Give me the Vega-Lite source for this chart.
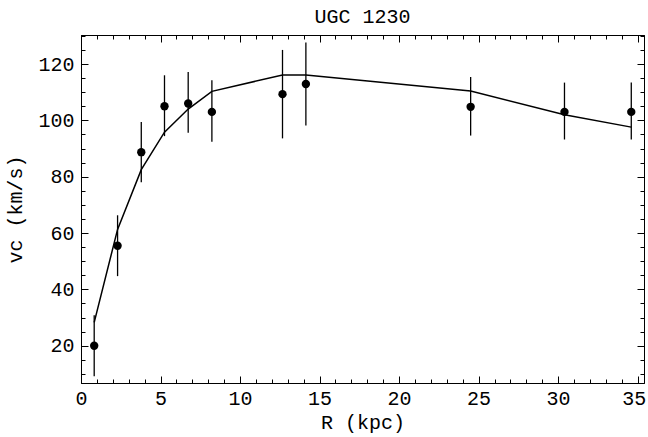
{
  "$schema": "https://vega.github.io/schema/vega-lite/v6.json",
  "autosize": "none",
  "width": 563,
  "height": 348,
  "padding": {"left": 81, "top": 35, "right": 4, "bottom": 54},
  "background": "white",
  "title": {"text": "UGC 1230", "font": "Liberation Mono", "fontSize": 20, "fontWeight": "normal", "color": "black", "baseline": "alphabetic", "offset": -8},
  "config": {
    "view": {"stroke": "black", "strokeWidth": 1},
    "axis": {"domainColor": "black", "domainWidth": 1, "tickColor": "black", "tickWidth": 1, "labelFont": "Liberation Mono", "labelFontSize": 20, "labelColor": "black", "titleFont": "Liberation Mono", "titleFontSize": 20, "titleFontWeight": "normal", "titleColor": "black", "grid": false}
  },
  "datasets": {
    "pts": [
      {"R": 0.83, "v": 20.0, "lo": 9.2, "hi": 30.8},
      {"R": 2.3, "v": 55.5, "lo": 44.7, "hi": 66.3},
      {"R": 3.79, "v": 88.7, "lo": 78.0, "hi": 99.4},
      {"R": 5.25, "v": 105.0, "lo": 94.4, "hi": 116.0},
      {"R": 6.74, "v": 106.0, "lo": 95.6, "hi": 117.2},
      {"R": 8.23, "v": 103.0, "lo": 92.4, "hi": 114.2},
      {"R": 12.67, "v": 109.3, "lo": 93.6, "hi": 125.0},
      {"R": 14.14, "v": 112.9, "lo": 98.2, "hi": 127.6},
      {"R": 24.5, "v": 104.8, "lo": 94.6, "hi": 115.4},
      {"R": 30.4, "v": 103.0, "lo": 93.2, "hi": 113.4},
      {"R": 34.6, "v": 103.0, "lo": 93.2, "hi": 113.4}
    ],
    "fit": [
      {"R": 0.83, "v": 28.3},
      {"R": 2.3, "v": 61.3},
      {"R": 3.79, "v": 82.5},
      {"R": 5.25, "v": 95.8},
      {"R": 6.74, "v": 104.0},
      {"R": 8.23, "v": 110.3},
      {"R": 12.67, "v": 116.1},
      {"R": 14.14, "v": 116.1},
      {"R": 24.5, "v": 110.4},
      {"R": 30.4, "v": 102.0},
      {"R": 34.6, "v": 97.6}
    ]
  },
  "resolve": {"axis": {"x": "independent", "y": "independent"}},
  "layer": [
    {
      "data": {"name": "pts"},
      "mark": {"type": "rule", "color": "black", "strokeWidth": 1.3},
      "encoding": {
        "x": {"field": "R", "type": "quantitative", "scale": {"domain": [0, 35.4], "nice": false, "zero": false},
              "axis": {"orient": "bottom", "values": [0, 5, 10, 15, 20, 25, 30, 35], "tickSize": -7, "labelPadding": 12, "title": "R (kpc)", "titlePadding": 4, "labelFlush": false,
                       "labelOffset": {"condition": {"test": "datum.value >= 34", "value": -4}, "value": 0}}},
        "y": {"field": "lo", "type": "quantitative", "scale": {"domain": [6.76, 130.3], "nice": false, "zero": false},
              "axis": {"orient": "left", "values": [20, 40, 60, 80, 100, 120], "tickSize": -7, "labelPadding": 14, "title": "vc (km/s)", "titlePadding": 12, "labelFlush": false}},
        "y2": {"field": "hi"}
      }
    },
    {
      "data": {"name": "pts"},
      "mark": {"type": "point", "shape": "circle", "filled": true, "color": "black", "opacity": 1, "size": 70},
      "encoding": {
        "x": {"field": "R", "type": "quantitative", "scale": {"domain": [0, 35.4], "nice": false, "zero": false},
              "axis": {"orient": "bottom", "values": [1,2,3,4,6,7,8,9,11,12,13,14,16,17,18,19,21,22,23,24,26,27,28,29,31,32,33,34], "tickSize": -4, "labels": false, "title": null, "domain": false}},
        "y": {"field": "v", "type": "quantitative", "scale": {"domain": [6.76, 130.3], "nice": false, "zero": false},
              "axis": {"orient": "left", "values": [10,15,25,30,35,45,50,55,65,70,75,85,90,95,105,110,115,125,130], "tickSize": -4, "labels": false, "title": null, "domain": false}}
      }
    },
    {
      "data": {"name": "fit"},
      "mark": {"type": "line", "color": "black", "strokeWidth": 1.5},
      "encoding": {
        "x": {"field": "R", "type": "quantitative", "scale": {"domain": [0, 35.4], "nice": false, "zero": false},
              "axis": {"orient": "top", "values": [0, 5, 10, 15, 20, 25, 30, 35], "tickSize": -7, "labels": false, "title": null}},
        "y": {"field": "v", "type": "quantitative", "scale": {"domain": [6.76, 130.3], "nice": false, "zero": false},
              "axis": {"orient": "right", "values": [20, 40, 60, 80, 100, 120], "tickSize": -7, "labels": false, "title": null}}
      }
    },
    {
      "data": {"name": "fit"},
      "mark": {"type": "line", "color": "black", "strokeOpacity": 0},
      "encoding": {
        "x": {"field": "R", "type": "quantitative", "scale": {"domain": [0, 35.4], "nice": false, "zero": false},
              "axis": {"orient": "top", "values": [1,2,3,4,6,7,8,9,11,12,13,14,16,17,18,19,21,22,23,24,26,27,28,29,31,32,33,34], "tickSize": -4, "labels": false, "title": null, "domain": false}},
        "y": {"field": "v", "type": "quantitative", "scale": {"domain": [6.76, 130.3], "nice": false, "zero": false},
              "axis": {"orient": "right", "values": [10,15,25,30,35,45,50,55,65,70,75,85,90,95,105,110,115,125,130], "tickSize": -4, "labels": false, "title": null, "domain": false}}
      }
    }
  ]
}
